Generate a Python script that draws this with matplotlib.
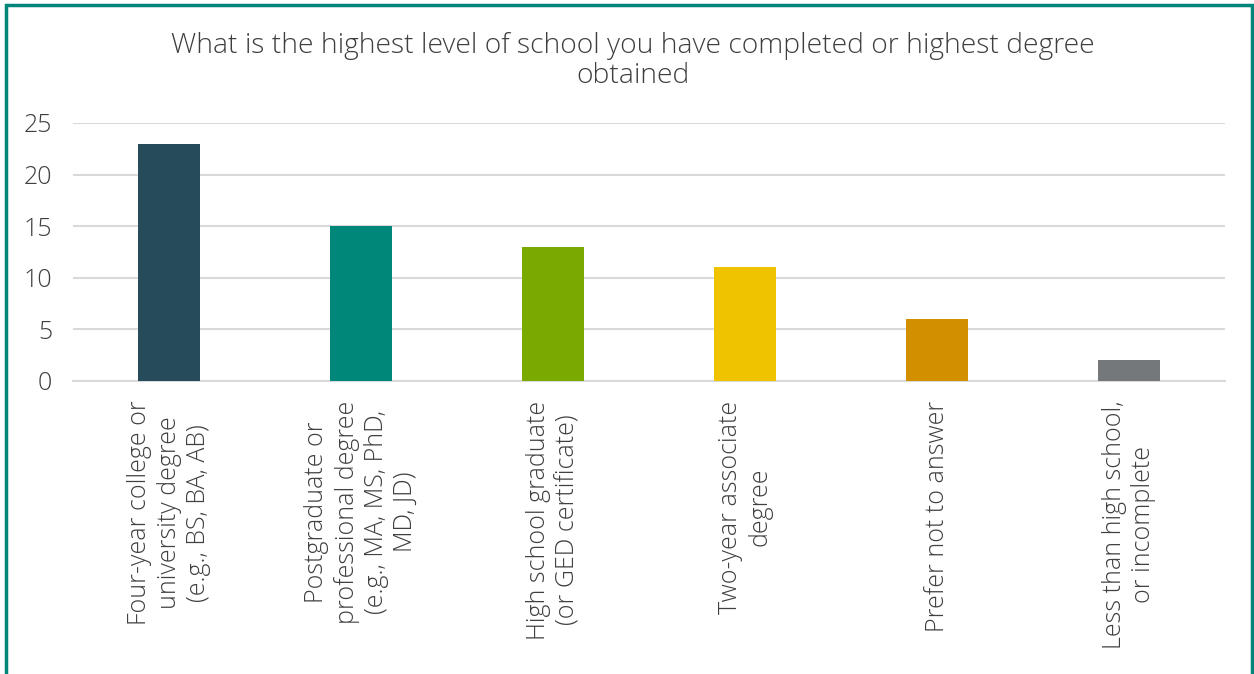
import matplotlib
matplotlib.use("Agg")
import matplotlib.pyplot as plt
from matplotlib.patches import Rectangle

# survey answers
categories = [
    "Four-year college or\nuniversity degree\n(e.g., BS, BA, AB)",
    "Postgraduate or\nprofessional degree\n(e.g., MA, MS, PhD,\nMD, JD)",
    "High school graduate\n(or GED certificate)",
    "Two-year associate\ndegree",
    "Prefer not to answer",
    "Less than high school,\nor incomplete",
]
counts = [23, 15, 13, 11, 6, 2]
colors = ["#264C5B", "#00877A", "#7AAA00", "#F0C300", "#D28F00", "#75787B"]
yticks = [0, 5, 10, 15, 20, 25]

title = "What is the highest level of school you have completed or highest degree\nobtained"

plt.rcParams["font.family"] = ["Open Sans", "DejaVu Sans"]
plt.rcParams["font.weight"] = "light"
text_color = "#3F3F3F"

fig = plt.figure(figsize=(12.54, 6.74), dpi=100)
ax = fig.add_axes([73 / 1254, 1 - 381 / 674, (1225 - 73) / 1254, (381 - 123) / 674])

x = range(len(categories))
ax.bar(x, counts, width=0.32, color=colors, zorder=3)

ax.set_xlim(-0.5, len(categories) - 0.5)
ax.set_ylim(0, 25)
ax.set_yticks(yticks)
ax.grid(axis="y", color="#D9D9D9", linewidth=1.5, zorder=0)
for s in ["top", "right", "left"]:
    ax.spines[s].set_visible(False)
ax.spines["bottom"].set_color("#D9D9D9")
ax.spines["bottom"].set_linewidth(1.5)

ax.tick_params(axis="both", length=0, labelsize=18, colors=text_color)
ax.tick_params(axis="y", pad=15)
ax.set_xticks(list(x))
ax.set_xticklabels(categories, rotation=90, ha="center", va="top",
                   multialignment="center", linespacing=1.22)
ax.tick_params(axis="x", pad=14)

fig.text(0.505, 1 - 61 / 674, title, ha="center", va="center", fontsize=20.3,
         color=text_color, linespacing=1.1)

# outer frame
fig.patches.append(Rectangle((6 / 1254, -0.05), (1252 - 6) / 1254, 1 - 5 / 674 + 0.05,
                             transform=fig.transFigure, fill=False,
                             edgecolor="#00857A", linewidth=2.5))

fig.savefig("out.png", dpi=100)
